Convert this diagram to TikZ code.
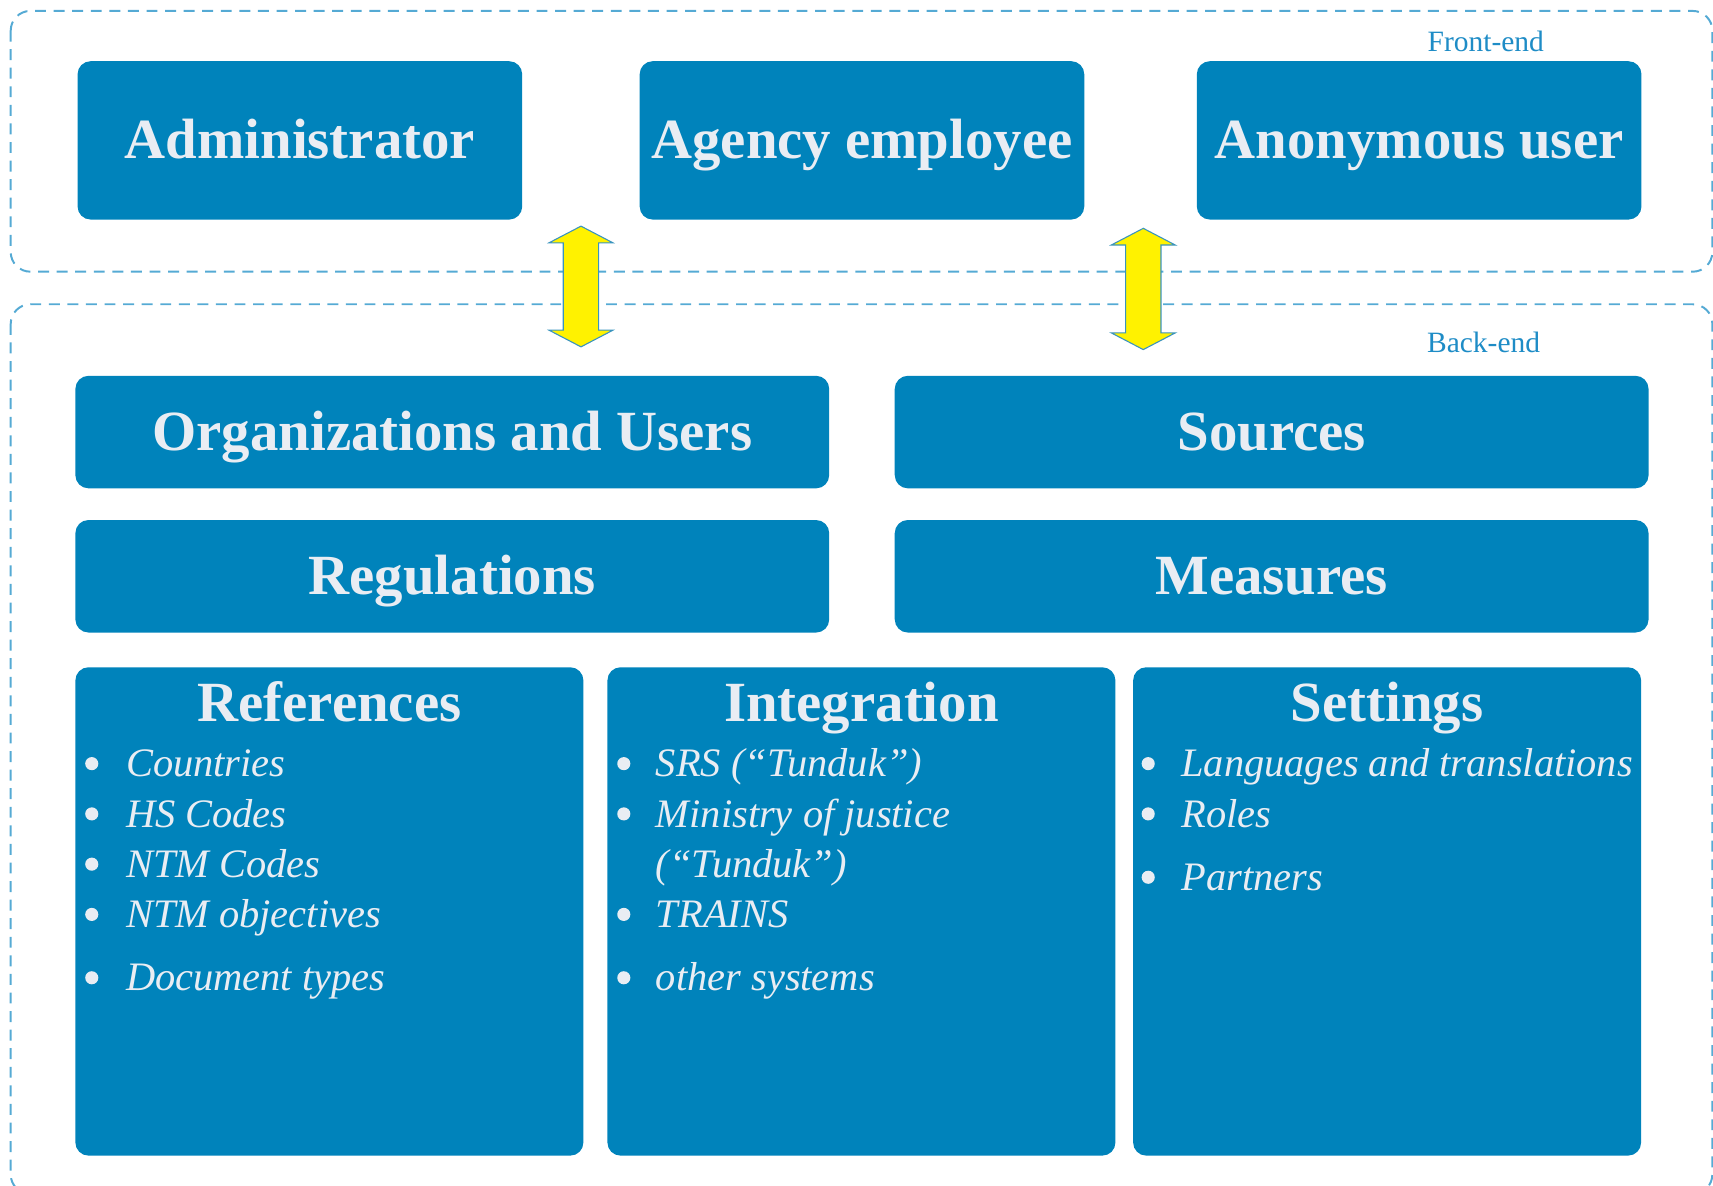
\documentclass[tikz,border=0pt]{standalone}
\usepackage{fontspec}
\setmainfont{Liberation Serif}
\definecolor{boxblue}{HTML}{0083BB}
\definecolor{boxtext}{HTML}{E9EDF3}
\definecolor{framecol}{HTML}{55AAD4}
\definecolor{labelcol}{HTML}{1E8CC6}
\definecolor{arrowline}{HTML}{3A94BE}
\tikzset{
	frame/.style={draw=framecol, line width=0.9pt, dash pattern=on 5pt off 3.5pt, rounded corners=9pt},
	block/.style={fill=boxblue, rounded corners=6pt, inner sep=0pt, text=boxtext,
		font=\bfseries\fontsize{26}{30}\selectfont, text height=17pt, text depth=0pt},
	title/.style={inner sep=0pt, text=boxtext, font=\bfseries\fontsize{26}{30}\selectfont,
		text height=17pt, text depth=0pt},
	item/.style={anchor=west, inner sep=0pt, text=boxtext,
		font=\itshape\fontsize{18.5}{22}\selectfont, text height=12pt, text depth=0pt},
	bullet/.style={circle, fill=boxtext, inner sep=0pt, minimum size=6pt},
	tag/.style={text=labelcol, font=\fontsize{13.5}{16}\selectfont, inner sep=0pt},
	updown/.style={fill=yellow, draw=arrowline, line width=0.5pt, line join=miter}
}
\begin{document}
\begin{tikzpicture}[x=0.5pt,y=-0.5pt]
	\useasboundingbox (0,0) rectangle (1568,1085.6);
	% frames
	\draw[frame] (9.8,10) rectangle (1567.4,248.7);
	\draw[frame] (9.8,278.5) rectangle (1567.4,1093);
	\node[tag] (front) at (1360,38) {Front-end};
	\node[tag] (back) at (1358,313) {Back-end};
	% front-end
	\node[block, minimum width=203.5pt, minimum height=72.5pt] (admin) at (274.5,128.5) {Administrator};
	\node[block, minimum width=203.5pt, minimum height=72.5pt] (agency) at (789,128.5) {Agency employee};
	\node[block, minimum width=203.5pt, minimum height=72.5pt] (anon) at (1299,128.5) {Anonymous user};
	% back-end
	\node[block, minimum width=345pt, minimum height=51.5pt] (orgs) at (414,395.5) {Organizations and Users};
	\node[block, minimum width=345pt, minimum height=51.5pt] (sources) at (1164,395.5) {Sources};
	\node[block, minimum width=345pt, minimum height=51.5pt] (regs) at (414,527.5) {Regulations};
	\node[block, minimum width=345pt, minimum height=51.5pt] (measures) at (1164,527.5) {Measures};
	\node[block, minimum width=232.5pt, minimum height=223.5pt] (refs) at (301.5,834.3) {};
	\node[block, minimum width=232.5pt, minimum height=223.5pt] (integ) at (788.5,834.3) {};
	\node[block, minimum width=232.5pt, minimum height=223.5pt] (settings) at (1269.7,834.3) {};
	\node[title] (refstitle) at (301.5,643) {References};
	\node[title] (integtitle) at (788.5,643) {Integration};
	\node[title] (settingstitle) at (1269.7,643) {Settings};
	% lists
	\foreach \y/\t [count=\i] in {699/Countries, 745/HS Codes, 791/NTM Codes, 837/NTM objectives, 895/Document types}{
		\node[bullet] (refsb\i) at (84,\y) {};
		\node[item] (refsi\i) at (115,\y) {\t};
	}
	\foreach \y/\t [count=\i] in {699/SRS (“Tunduk”), 745/Ministry of justice, 837/TRAINS, 895/other systems}{
		\node[bullet] (integb\i) at (571,\y) {};
		\node[item] (integi\i) at (600,\y) {\t};
	}
	\node[item] (integcont) at (600,791) {(“Tunduk”)};
	\foreach \y/\t [count=\i] in {699/Languages and translations, 745/Roles, 803/Partners}{
		\node[bullet] (settingsb\i) at (1051,\y) {};
		\node[item] (settingsi\i) at (1081,\y) {\t};
	}
	% arrows between front-end and back-end
	\foreach \x/\t/\b in {531.8/207/317.5, 1046.5/209/320}{
		\draw[updown] (\x,\t) -- ({\x+29.3},{\t+15.3}) -- ({\x+16.2},{\t+15.3}) -- ({\x+16.2},{\b-15.3})
			-- ({\x+29.3},{\b-15.3}) -- (\x,\b) -- ({\x-29.3},{\b-15.3}) -- ({\x-16.2},{\b-15.3})
			-- ({\x-16.2},{\t+15.3}) -- ({\x-29.3},{\t+15.3}) -- cycle;
	}
\end{tikzpicture}
\end{document}
